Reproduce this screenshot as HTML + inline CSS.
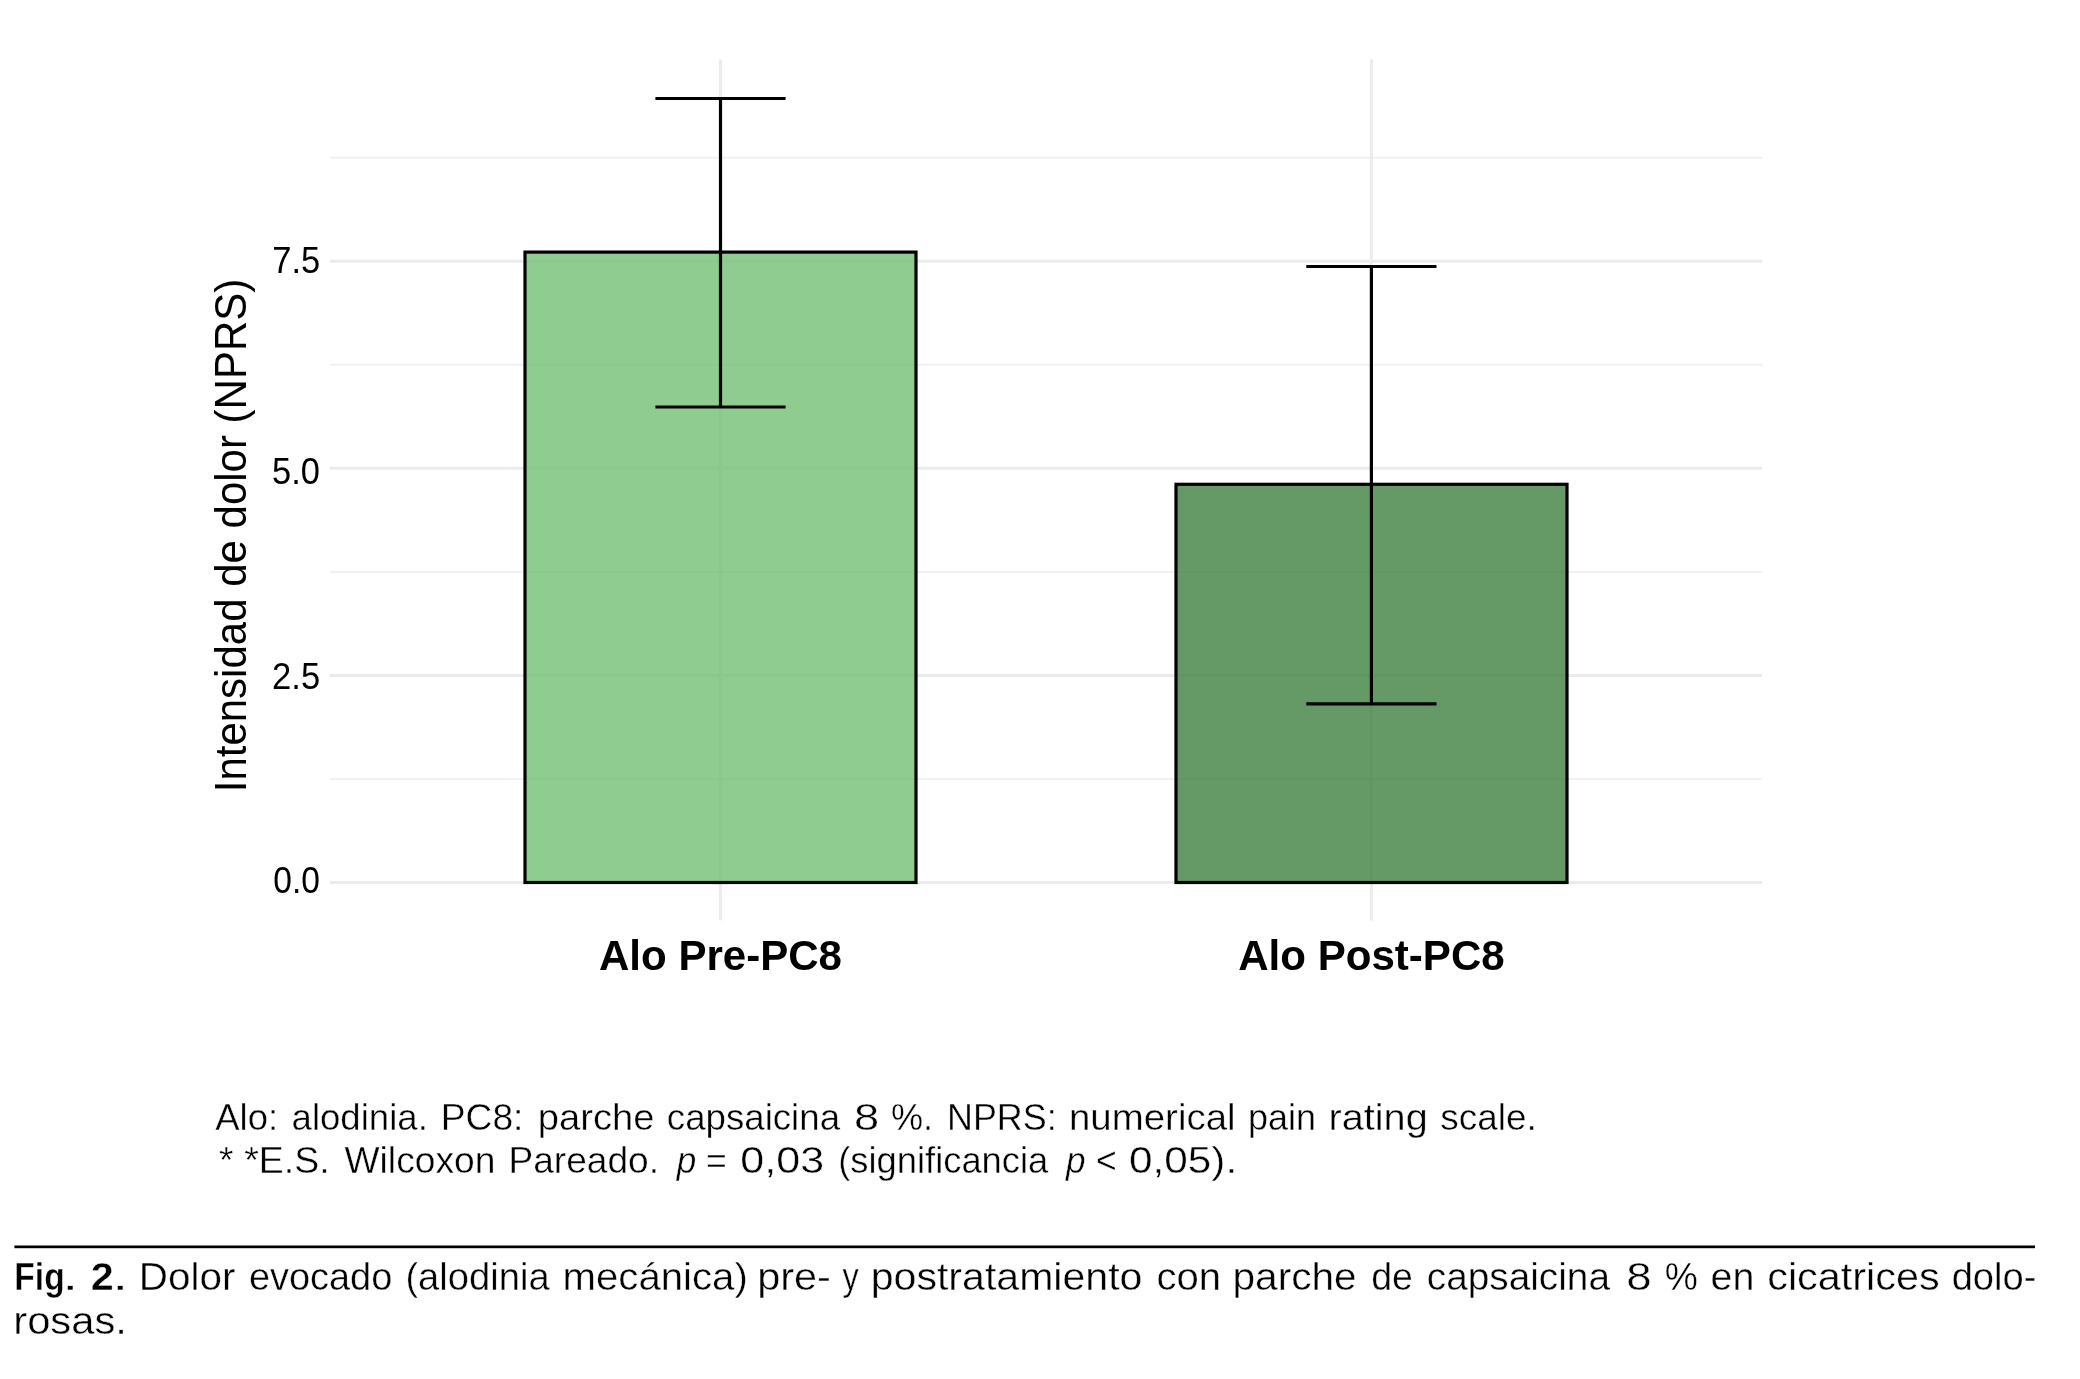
<!DOCTYPE html>
<html lang="es">
<head>
<meta charset="utf-8">
<title>Fig. 2. Dolor evocado</title>
<style>
html,body{margin:0;padding:0;background:#fff;}
body{width:2080px;height:1379px;overflow:hidden;position:relative;}
svg{position:absolute;left:0;top:0;display:block;will-change:transform;}
.t{font-family:"Liberation Sans",Arial,sans-serif;fill:#000;}
.b{font-weight:bold;}
.i{font-style:italic;}
.f{stroke:#fff;stroke-width:0.4px;}
</style>
</head>
<body>
<svg width="2080" height="1379" viewBox="0 0 2080 1379">
  <rect x="0" y="0" width="2080" height="1379" fill="#fff"/>
  <!-- minor gridlines -->
  <g stroke="#f1f1f1" stroke-width="2">
    <line x1="330" y1="157.7" x2="1762" y2="157.7"/>
    <line x1="330" y1="364.8" x2="1762" y2="364.8"/>
    <line x1="330" y1="571.9" x2="1762" y2="571.9"/>
    <line x1="330" y1="779" x2="1762" y2="779"/>
  </g>
  <!-- major gridlines -->
  <g stroke="#ebebeb" stroke-width="3">
    <line x1="330" y1="261.3" x2="1762" y2="261.3"/>
    <line x1="330" y1="468.3" x2="1762" y2="468.3"/>
    <line x1="330" y1="675.4" x2="1762" y2="675.4"/>
    <line x1="330" y1="882.5" x2="1762" y2="882.5"/>
    <line x1="720.5" y1="59.6" x2="720.5" y2="920.5"/>
    <line x1="1371.4" y1="59.6" x2="1371.4" y2="920.5"/>
  </g>
  <!-- bars -->
  <rect x="525" y="252.1" width="391" height="630.4" fill="#73bf73" fill-opacity="0.8" stroke="#000" stroke-width="3.2"/>
  <rect x="1176" y="484.3" width="391" height="398.2" fill="#3f803f" fill-opacity="0.8" stroke="#000" stroke-width="3.2"/>
  <!-- error bars -->
  <g stroke="#000" stroke-width="3.2" fill="none">
    <line x1="720.5" y1="98.5" x2="720.5" y2="407"/>
    <line x1="655.4" y1="98.5" x2="785.6" y2="98.5"/>
    <line x1="655.4" y1="407" x2="785.6" y2="407"/>
    <line x1="1371.4" y1="266.5" x2="1371.4" y2="703.8"/>
    <line x1="1306.3" y1="266.5" x2="1436.5" y2="266.5"/>
    <line x1="1306.3" y1="703.8" x2="1436.5" y2="703.8"/>
  </g>
  <!-- rule -->
  <rect x="14.4" y="1245.5" width="2020.6" height="2.7" fill="#000"/>
  <!-- text -->
  <text class="t" font-size="35" transform="translate(272.23,272.80) scale(0.9867,1.0333)">7.5</text>
  <text class="t" font-size="35" transform="translate(272.03,483.90) scale(0.9844,1.0292)">5.0</text>
  <text class="t" font-size="35" transform="translate(272.02,688.90) scale(0.9889,1.0375)">2.5</text>
  <text class="t" font-size="35" transform="translate(273.24,892.90) scale(0.9587,1.0417)">0.0</text>
  <text class="t" font-size="41.6" font-weight="bold" transform="translate(598.99,969.50) scale(1.0109,1.0410)">Alo Pre-PC8</text>
  <text class="t" font-size="41.6" font-weight="bold" transform="translate(1238.19,969.50) scale(1.0115,1.0410)">Alo Post-PC8</text>
  <text class="t" font-size="42.3" transform="translate(245.60,792.27) rotate(-90) scale(0.9928,1.0450)">Intensidad de dolor (NPRS)</text>
  <text class="t f" font-size="37.0" transform="translate(215.20,1130.30) scale(0.9867,1.0000)">Alo:</text>
  <text class="t f" font-size="37.0" transform="translate(291.52,1130.30) scale(0.9894,1.0000)">alodinia.</text>
  <text class="t f" font-size="37.0" transform="translate(440.68,1130.30) scale(1.0066,1.0000)">PC8:</text>
  <text class="t f" font-size="37.0" transform="translate(537.84,1130.30) scale(1.0309,1.0000)">parche</text>
  <text class="t f" font-size="37.0" transform="translate(666.82,1130.30) scale(0.9908,1.0000)">capsaicina</text>
  <text class="t f" font-size="37.0" transform="translate(853.95,1130.30) scale(1.2235,1.0000)">8</text>
  <text class="t f" font-size="37.0" transform="translate(890.92,1130.30) scale(0.9769,1.0000)">%.</text>
  <text class="t f" font-size="37.0" transform="translate(946.99,1130.30) scale(0.9701,1.0000)">NPRS:</text>
  <text class="t f" font-size="37.0" transform="translate(1068.98,1130.30) scale(1.0387,1.0000)">numerical</text>
  <text class="t f" font-size="37.0" transform="translate(1248.06,1130.30) scale(0.9712,1.0000)">pain</text>
  <text class="t f" font-size="37.0" transform="translate(1328.45,1130.30) scale(1.0727,1.0000)">rating</text>
  <text class="t f" font-size="37.0" transform="translate(1440.30,1130.30) scale(0.9978,1.0000)">scale.</text>
  <text class="t f" font-size="37.0" transform="translate(218.90,1172.90) scale(1.0000,1.0000)">*</text>
  <text class="t f" font-size="37.0" transform="translate(244.29,1172.90) scale(1.0125,1.0000)">*E.S.</text>
  <text class="t f" font-size="37.0" transform="translate(344.50,1172.90) scale(1.0054,1.0000)">Wilcoxon</text>
  <text class="t f" font-size="37.0" transform="translate(508.49,1172.90) scale(1.0028,1.0000)">Pareado.</text>
  <text class="t f" font-size="37.0" font-style="italic" transform="translate(676.75,1172.90) scale(0.9500,1.0000)">p</text>
  <text class="t f" font-size="37.0" transform="translate(705.88,1172.90) scale(0.9611,1.0000)">=</text>
  <text class="t f" font-size="37.0" transform="translate(740.34,1172.90) scale(1.1629,1.0000)">0,03</text>
  <text class="t f" font-size="37.0" transform="translate(838.23,1172.90) scale(0.9825,1.0000)">(significancia</text>
  <text class="t f" font-size="37.0" font-style="italic" transform="translate(1065.95,1172.90) scale(0.9500,1.0000)">p</text>
  <text class="t f" font-size="37.0" transform="translate(1095.98,1172.90) scale(0.9611,1.0000)">&lt;</text>
  <text class="t f" font-size="37.0" transform="translate(1128.96,1172.90) scale(1.1444,1.0000)">0,05).</text>
  <text class="t f" font-size="39.5" font-weight="bold" transform="translate(14.35,1290.10) scale(0.8500,1.0000)">Fig</text>
  <text class="t f" font-size="39.5" transform="translate(61.87,1290.10) scale(1.5333,1.0000)">.</text>
  <text class="t f" font-size="39.5" font-weight="bold" transform="translate(90.85,1290.10) scale(1.0474,1.0000)">2</text>
  <text class="t f" font-size="39.5" transform="translate(111.77,1290.10) scale(1.5333,1.0000)">.</text>
  <text class="t f" font-size="39.5" transform="translate(138.83,1290.10) scale(1.0231,1.0000)">Dolor</text>
  <text class="t f" font-size="39.5" transform="translate(248.88,1290.10) scale(0.9603,1.0000)">evocado</text>
  <text class="t f" font-size="39.5" transform="translate(405.40,1290.10) scale(0.9658,1.0000)">(alodinia</text>
  <text class="t f" font-size="39.5" transform="translate(562.55,1290.10) scale(1.0169,1.0000)">mecánica)</text>
  <text class="t f" font-size="39.5" transform="translate(757.15,1290.10) scale(1.0508,1.0000)">pre-</text>
  <text class="t f" font-size="39.5" transform="translate(842.50,1290.10) scale(0.8200,1.0000)">y</text>
  <text class="t f" font-size="39.5" transform="translate(870.68,1290.10) scale(1.0405,1.0000)">postratamiento</text>
  <text class="t f" font-size="39.5" transform="translate(1156.47,1290.10) scale(1.0136,1.0000)">con</text>
  <text class="t f" font-size="39.5" transform="translate(1232.41,1290.10) scale(1.0293,1.0000)">parche</text>
  <text class="t f" font-size="39.5" transform="translate(1371.20,1290.10) scale(0.9500,1.0000)">de</text>
  <text class="t f" font-size="39.5" transform="translate(1426.74,1290.10) scale(0.9822,1.0000)">capsaicina</text>
  <text class="t f" font-size="39.5" transform="translate(1626.19,1290.10) scale(1.1556,1.0000)">8</text>
  <text class="t f" font-size="39.5" transform="translate(1664.86,1290.10) scale(0.9424,1.0000)">%</text>
  <text class="t f" font-size="39.5" transform="translate(1710.51,1290.10) scale(0.9974,1.0000)">en</text>
  <text class="t f" font-size="39.5" transform="translate(1767.20,1290.10) scale(1.0484,1.0000)">cicatrices</text>
  <text class="t f" font-size="39.5" transform="translate(1951.67,1290.10) scale(0.9643,1.0000)">dolo-</text>
  <text class="t f" font-size="39.5" transform="translate(13.23,1333.90) scale(1.0574,1.0000)">rosas.</text>
</svg>
</body>
</html>
